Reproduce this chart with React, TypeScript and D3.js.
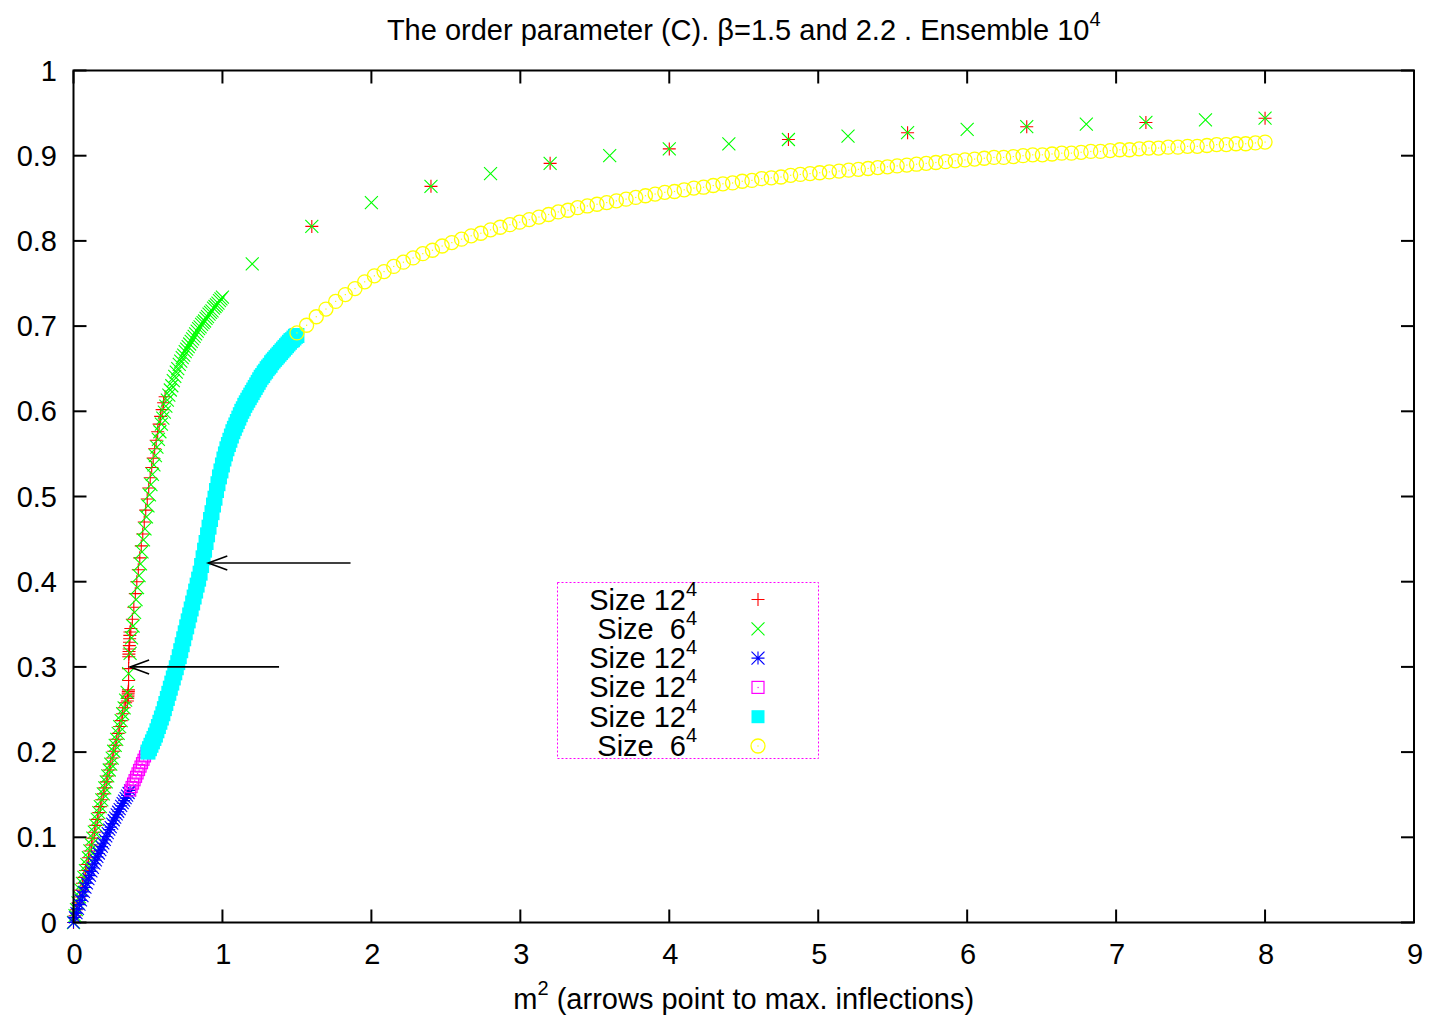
import React from 'react';
import * as d3 from 'd3';

// ---- data ----
const redX = [
  0, 0.01, 0.02, 0.03, 0.04, 0.05, 0.06, 0.07, 0.08, 0.09,
  0.1, 0.11, 0.12, 0.13, 0.14, 0.15, 0.16, 0.17, 0.18, 0.19,
  0.2, 0.21, 0.22, 0.23, 0.24, 0.25, 0.26, 0.27, 0.28, 0.29,
  0.3, 0.31, 0.32, 0.33, 0.34, 0.35,
  0.362, 0.364, 0.365, 0.366, 0.367, 0.368, 0.369, 0.37, 0.37, 0.371,
  0.372, 0.373, 0.374, 0.375, 0.376, 0.377, 0.378, 0.379,
  0.385, 0.395, 0.405, 0.415, 0.425, 0.435, 0.445, 0.455, 0.465, 0.475,
  0.485, 0.495, 0.505, 0.515, 0.525, 0.535, 0.545, 0.555, 0.565, 0.575,
  0.585, 0.595, 0.605, 0.615,
  1.6, 2.4, 3.2, 4.0, 4.8, 5.6, 6.4, 7.2, 8.0,
];
const redY = [
  0.000, 0.008, 0.015, 0.023, 0.030, 0.038, 0.046, 0.053, 0.061, 0.068,
  0.076, 0.084, 0.091, 0.099, 0.106, 0.114, 0.121, 0.129, 0.136, 0.144,
  0.151, 0.158, 0.165, 0.172, 0.179, 0.186, 0.193, 0.201, 0.208, 0.215,
  0.222, 0.230, 0.237, 0.245, 0.252, 0.258,
  0.260, 0.263, 0.265, 0.267, 0.269, 0.271, 0.273, 0.284, 0.298, 0.312,
  0.315, 0.318, 0.321, 0.325, 0.329, 0.333, 0.337, 0.341,
  0.345, 0.356, 0.370, 0.386, 0.400, 0.414, 0.428, 0.442, 0.456, 0.470,
  0.484, 0.497, 0.510, 0.522, 0.534, 0.545, 0.556, 0.566, 0.576, 0.585,
  0.594, 0.602, 0.610, 0.617,
  0.817, 0.864, 0.891, 0.908, 0.919, 0.927, 0.934, 0.939, 0.944,
];

const greenX = [
  0, 0.01, 0.02, 0.03, 0.04, 0.05, 0.06, 0.07, 0.08, 0.09,
  0.1, 0.11, 0.12, 0.13, 0.14, 0.15, 0.16, 0.17, 0.18, 0.19,
  0.2, 0.21, 0.22, 0.23, 0.24, 0.25, 0.26, 0.27, 0.28, 0.29,
  0.3, 0.31, 0.32, 0.33, 0.34, 0.35, 0.36, 0.37, 0.38, 0.39,
  0.4, 0.41, 0.42, 0.43, 0.44, 0.45, 0.46, 0.47, 0.48, 0.49,
  0.5, 0.51, 0.52, 0.53, 0.54, 0.55, 0.56, 0.57, 0.58, 0.59,
  0.6, 0.61, 0.62, 0.63, 0.64, 0.65, 0.66, 0.67, 0.68, 0.69,
  0.7, 0.71, 0.72, 0.73, 0.74, 0.75, 0.76, 0.77, 0.78, 0.79,
  0.8, 0.81, 0.82, 0.83, 0.84, 0.85, 0.86, 0.87, 0.88, 0.89,
  0.9, 0.91, 0.92, 0.93, 0.94, 0.95, 0.96, 0.97, 0.98, 0.99,
  1.0,
  1.2, 1.6, 2.0, 2.4, 2.8, 3.2, 3.6, 4.0, 4.4, 4.8,
  5.2, 5.6, 6.0, 6.4, 6.8, 7.2, 7.6, 8.0,
];
const greenY = [
  0.000, 0.008, 0.015, 0.023, 0.030, 0.038, 0.046, 0.053, 0.061, 0.068,
  0.076, 0.084, 0.091, 0.099, 0.106, 0.114, 0.121, 0.129, 0.136, 0.144,
  0.151, 0.158, 0.165, 0.172, 0.179, 0.186, 0.193, 0.201, 0.208, 0.215,
  0.222, 0.230, 0.237, 0.245, 0.252, 0.261, 0.270, 0.292, 0.316, 0.334,
  0.348, 0.364, 0.379, 0.393, 0.407, 0.421, 0.435, 0.449, 0.462, 0.476,
  0.489, 0.502, 0.514, 0.526, 0.537, 0.548, 0.558, 0.567, 0.576, 0.585,
  0.592, 0.599, 0.606, 0.613, 0.619, 0.625, 0.630, 0.636, 0.641, 0.646,
  0.650, 0.655, 0.659, 0.663, 0.666, 0.670, 0.673, 0.676, 0.679, 0.682,
  0.685, 0.688, 0.691, 0.694, 0.697, 0.699, 0.702, 0.704, 0.706, 0.709,
  0.711, 0.714, 0.716, 0.718, 0.721, 0.723, 0.725, 0.727, 0.730, 0.732,
  0.734,
  0.773, 0.817, 0.845, 0.864, 0.879, 0.891, 0.900, 0.908, 0.914, 0.919,
  0.923, 0.927, 0.931, 0.934, 0.937, 0.939, 0.942, 0.944,
];

const blueX = [
  0, 0.01, 0.02, 0.03, 0.04, 0.05, 0.06, 0.07, 0.08, 0.09,
  0.1, 0.11, 0.12, 0.13, 0.14, 0.15, 0.16, 0.17, 0.18, 0.19,
  0.2, 0.21, 0.22, 0.23, 0.24, 0.25, 0.26, 0.27, 0.28, 0.29,
  0.3, 0.31, 0.32, 0.33, 0.34, 0.35, 0.36, 0.37, 0.38,
];
const blueY = [
  0.000, 0.006, 0.011, 0.016, 0.021, 0.026, 0.031, 0.036, 0.041, 0.046,
  0.051, 0.055, 0.060, 0.064, 0.069, 0.073, 0.077, 0.081, 0.085, 0.089,
  0.093, 0.097, 0.101, 0.105, 0.109, 0.112, 0.116, 0.120, 0.123, 0.127,
  0.130, 0.133, 0.137, 0.140, 0.143, 0.146, 0.149, 0.152, 0.155,
];

const magentaX = [0.38, 0.39, 0.4, 0.41, 0.42, 0.43, 0.44, 0.45, 0.46, 0.47, 0.48, 0.49, 0.5];
const magentaY = [0.155, 0.159, 0.163, 0.167, 0.171, 0.175, 0.179, 0.183, 0.187, 0.191, 0.195, 0.199, 0.202];

const cyanX = [
  0.5, 0.51, 0.52, 0.53, 0.54, 0.55, 0.56, 0.57, 0.58, 0.59,
  0.6, 0.61, 0.62, 0.63, 0.64, 0.65, 0.66, 0.67, 0.68, 0.69,
  0.7, 0.71, 0.72, 0.73, 0.74, 0.75, 0.76, 0.77, 0.78, 0.79,
  0.8, 0.81, 0.82, 0.83, 0.84, 0.85, 0.86, 0.87, 0.88, 0.89,
  0.9, 0.91, 0.92, 0.93, 0.94, 0.95, 0.96, 0.97, 0.98, 0.99,
  1.0, 1.01, 1.02, 1.03, 1.04, 1.05, 1.06, 1.07, 1.08, 1.09,
  1.1, 1.11, 1.12, 1.13, 1.14, 1.15, 1.16, 1.17, 1.18, 1.19,
  1.2, 1.21, 1.22, 1.23, 1.24, 1.25, 1.26, 1.27, 1.28, 1.29,
  1.3, 1.31, 1.32, 1.33, 1.34, 1.35, 1.36, 1.37, 1.38, 1.39,
  1.4, 1.41, 1.42, 1.43, 1.44, 1.45, 1.46, 1.47, 1.48, 1.49,
  1.5,
];
const cyanY = [
  0.200, 0.204, 0.208, 0.212, 0.216, 0.220, 0.225, 0.230, 0.235, 0.240,
  0.245, 0.251, 0.257, 0.263, 0.269, 0.275, 0.281, 0.287, 0.293, 0.299,
  0.305, 0.312, 0.319, 0.326, 0.333, 0.340, 0.347, 0.354, 0.361, 0.368,
  0.375, 0.382, 0.389, 0.396, 0.403, 0.410, 0.419, 0.428, 0.437, 0.446,
  0.455, 0.464, 0.473, 0.481, 0.490, 0.498, 0.507, 0.515, 0.523, 0.530,
  0.537, 0.544, 0.550, 0.556, 0.561, 0.566, 0.571, 0.576, 0.580, 0.584,
  0.588, 0.592, 0.596, 0.600, 0.603, 0.607, 0.610, 0.613, 0.616, 0.619,
  0.622, 0.625, 0.628, 0.631, 0.634, 0.637, 0.640, 0.642, 0.645, 0.647,
  0.650, 0.652, 0.654, 0.657, 0.659, 0.661, 0.663, 0.665, 0.667, 0.669,
  0.671, 0.673, 0.675, 0.677, 0.679, 0.681, 0.683, 0.684, 0.686, 0.688,
  0.689,
];

const yellowX = [
  1.5, 1.565, 1.63, 1.695, 1.76, 1.825, 1.89, 1.955, 2.02, 2.085,
  2.15, 2.215, 2.28, 2.345, 2.41, 2.475, 2.54, 2.605, 2.67, 2.735,
  2.8, 2.865, 2.93, 2.995, 3.06, 3.125, 3.19, 3.255, 3.32, 3.385,
  3.45, 3.515, 3.58, 3.645, 3.71, 3.775, 3.84, 3.905, 3.97, 4.035,
  4.1, 4.165, 4.23, 4.295, 4.36, 4.425, 4.49, 4.555, 4.62, 4.685,
  4.75, 4.815, 4.88, 4.945, 5.01, 5.075, 5.14, 5.205, 5.27, 5.335,
  5.4, 5.465, 5.53, 5.595, 5.66, 5.725, 5.79, 5.855, 5.92, 5.985,
  6.05, 6.115, 6.18, 6.245, 6.31, 6.375, 6.44, 6.505, 6.57, 6.635,
  6.7, 6.765, 6.83, 6.895, 6.96, 7.025, 7.09, 7.155, 7.22, 7.285,
  7.35, 7.415, 7.48, 7.545, 7.61, 7.675, 7.74, 7.805, 7.87, 7.935,
  8.0,
];
const yellowY = [
  0.692, 0.701, 0.711, 0.720, 0.729, 0.737, 0.744, 0.752, 0.759, 0.764,
  0.770, 0.775, 0.780, 0.785, 0.789, 0.794, 0.798, 0.802, 0.806, 0.809,
  0.813, 0.816, 0.819, 0.822, 0.825, 0.828, 0.831, 0.834, 0.836, 0.839,
  0.841, 0.843, 0.845, 0.847, 0.849, 0.851, 0.853, 0.855, 0.857, 0.858,
  0.860, 0.862, 0.863, 0.865, 0.867, 0.868, 0.870, 0.871, 0.873, 0.874,
  0.875, 0.877, 0.878, 0.879, 0.880, 0.881, 0.882, 0.883, 0.884, 0.885,
  0.886, 0.887, 0.888, 0.889, 0.890, 0.891, 0.892, 0.893, 0.894, 0.895,
  0.896, 0.897, 0.898, 0.898, 0.899, 0.900, 0.901, 0.901, 0.902, 0.903,
  0.903, 0.904, 0.905, 0.905, 0.906, 0.907, 0.907, 0.908, 0.909, 0.909,
  0.910, 0.910, 0.911, 0.911, 0.912, 0.913, 0.913, 0.914, 0.914, 0.915,
  0.916,
];

// arrows: [x from, y from, x to, y to]
const arrows = [
  [1.86, 0.422, 0.905, 0.422],
  [1.38, 0.3, 0.38, 0.3],
];

const legendLabels = ['Size 12', 'Size  6', 'Size 12', 'Size 12', 'Size 12', 'Size  6'];
const xTicks = [0, 1, 2, 3, 4, 5, 6, 7, 8, 9];
const yTicks = [0, 0.1, 0.2, 0.3, 0.4, 0.5, 0.6, 0.7, 0.8, 0.9, 1];

const W = 1432;
const H = 1019;
const margin = { top: 70.5, right: 18, bottom: 96.5, left: 73.5 };
const FONT = '"Liberation Sans", Arial, sans-serif';

const xScale = d3.scaleLinear().domain([0, 9]).range([margin.left, W - margin.right]);
const yScale = d3.scaleLinear().domain([0, 1]).range([H - margin.bottom, margin.top]);

type Kind = 'plus' | 'cross' | 'star' | 'box' | 'fbox' | 'circle';

function markerPath(kind: Kind, cx: number, cy: number, s: number) {
  const plus = `M${cx - s},${cy}H${cx + s}M${cx},${cy - s}V${cy + s}`;
  const cross = `M${cx - s},${cy - s}L${cx + s},${cy + s}M${cx - s},${cy + s}L${cx + s},${cy - s}`;
  if (kind === 'plus') return plus;
  if (kind === 'cross') return cross;
  if (kind === 'star') return plus + cross;
  return '';
}

function Marker({ kind, cx, cy, color, s = 6 }: { kind: Kind; cx: number; cy: number; color: string; s?: number }) {
  if (kind === 'box') {
    return (
      <g>
        <rect x={cx - s + 0.5} y={cy - s + 0.5} width={2 * s - 1} height={2 * s - 1} fill="none" stroke={color} strokeWidth={1.2} />
        <rect x={cx - 0.5} y={cy - 0.5} width={1.2} height={1.2} fill={color} />
      </g>
    );
  }
  if (kind === 'fbox') {
    return <rect x={cx - s} y={cy - s} width={2 * s} height={2 * s} fill={color} />;
  }
  if (kind === 'circle') {
    return (
      <g>
        <circle cx={cx} cy={cy} r={s + 0.5} fill="none" stroke={color} strokeWidth={1.3} />
        <rect x={cx - 0.6} y={cy - 0.6} width={1.2} height={1.2} fill={color} />
      </g>
    );
  }
  return <path d={markerPath(kind, cx, cy, s)} stroke={color} strokeWidth={1.1} fill="none" />;
}

const series: { xs: number[]; ys: number[]; kind: Kind; color: string; s: number }[] = [
  { xs: redX, ys: redY, kind: 'plus', color: '#ff0000', s: 6.5 },
  { xs: greenX, ys: greenY, kind: 'cross', color: '#00ff00', s: 6.5 },
  { xs: blueX, ys: blueY, kind: 'star', color: '#0000ff', s: 6 },
  { xs: magentaX, ys: magentaY, kind: 'box', color: '#ff00ff', s: 6 },
  { xs: cyanX, ys: cyanY, kind: 'fbox', color: '#00ffff', s: 7.5 },
  { xs: yellowX, ys: yellowY, kind: 'circle', color: '#ffff00', s: 6.5 },
];

export default function App() {
  const x0 = margin.left;
  const x1 = W - margin.right;
  const y0 = H - margin.bottom;
  const y1 = margin.top;
  const tickLen = 13;
  const fs = 29;
  const sup = 20;

  const legend = { x: 557.5, y: 582.5, w: 261, h: 176, row: 29.3 };

  return (
    <svg width={W} height={H} style={{ position: 'absolute', left: 0, top: 0, background: '#fff' }} fontFamily={FONT}>
      <rect x={0} y={0} width={W} height={H} fill="#fff" />

      {/* ticks, mirrored on all sides */}
      <g stroke="#000" strokeWidth={2}>
        {xTicks.map(t => (
          <g key={'xt' + t}>
            <line x1={xScale(t)} x2={xScale(t)} y1={y0} y2={y0 - tickLen} />
            <line x1={xScale(t)} x2={xScale(t)} y1={y1} y2={y1 + tickLen} />
          </g>
        ))}
        {yTicks.map(t => (
          <g key={'yt' + t}>
            <line x1={x0} x2={x0 + tickLen} y1={yScale(t)} y2={yScale(t)} />
            <line x1={x1} x2={x1 - tickLen} y1={yScale(t)} y2={yScale(t)} />
          </g>
        ))}
      </g>

      {/* tick labels */}
      <g fontSize={fs} fill="#000">
        {xTicks.map(t => (
          <text key={'xl' + t} x={xScale(t) + 1} y={y0 + 41} textAnchor="middle">{t}</text>
        ))}
        {yTicks.map(t => (
          <text key={'yl' + t} x={57} y={yScale(t) + 10} textAnchor="end">{d3.format('~g')(t)}</text>
        ))}
      </g>

      {/* data points */}
      {series.map((sr, i) => (
        <g key={'s' + i}>
          {sr.xs.map((xv, j) => (
            <Marker key={j} kind={sr.kind} cx={xScale(xv)} cy={yScale(sr.ys[j])} color={sr.color} s={sr.s} />
          ))}
        </g>
      ))}

      {/* arrows */}
      <g stroke="#000" strokeWidth={1.6} fill="none">
        {arrows.map((a, i) => {
          const fx = xScale(a[0]);
          const fy = yScale(a[1]);
          const tx = xScale(a[2]);
          const ty = yScale(a[3]);
          return (
            <g key={'a' + i}>
              <line x1={fx} y1={fy} x2={tx} y2={ty} />
              <path d={`M${tx + 19},${ty - 7}L${tx},${ty}L${tx + 19},${ty + 7}`} />
            </g>
          );
        })}
      </g>

      {/* legend */}
      <rect x={legend.x} y={legend.y} width={legend.w} height={legend.h} fill="none" stroke="#ff00ff" strokeWidth={1} strokeDasharray="2,2" />
      {series.map((sr, i) => {
        const cy = legend.y + 17 + i * legend.row;
        return (
          <g key={'lg' + i}>
            <text x={686} y={cy + 10} fontSize={fs} textAnchor="end" style={{ whiteSpace: 'pre' }}>{legendLabels[i]}</text>
            <text x={686} y={cy - 4} fontSize={sup} textAnchor="start">4</text>
            <Marker kind={sr.kind} cx={758} cy={cy} color={sr.color} s={sr.kind === 'fbox' ? 6.5 : 6.5} />
          </g>
        );
      })}

      {/* border */}
      <rect x={x0} y={y1} width={x1 - x0} height={y0 - y1} fill="none" stroke="#000" strokeWidth={2} />

      {/* title */}
      <text x={(x0 + x1) / 2} y={40} fontSize={fs} textAnchor="middle">
        The order parameter (C). β=1.5 and 2.2 . Ensemble 10
        <tspan dy={-14} fontSize={sup}>4</tspan>
      </text>

      {/* x axis label */}
      <text x={(x0 + x1) / 2} y={1009} fontSize={fs} textAnchor="middle">
        m<tspan dy={-14} fontSize={sup}>2</tspan>
        <tspan dy={14}> (arrows point to max. inflections)</tspan>
      </text>
    </svg>
  );
}
